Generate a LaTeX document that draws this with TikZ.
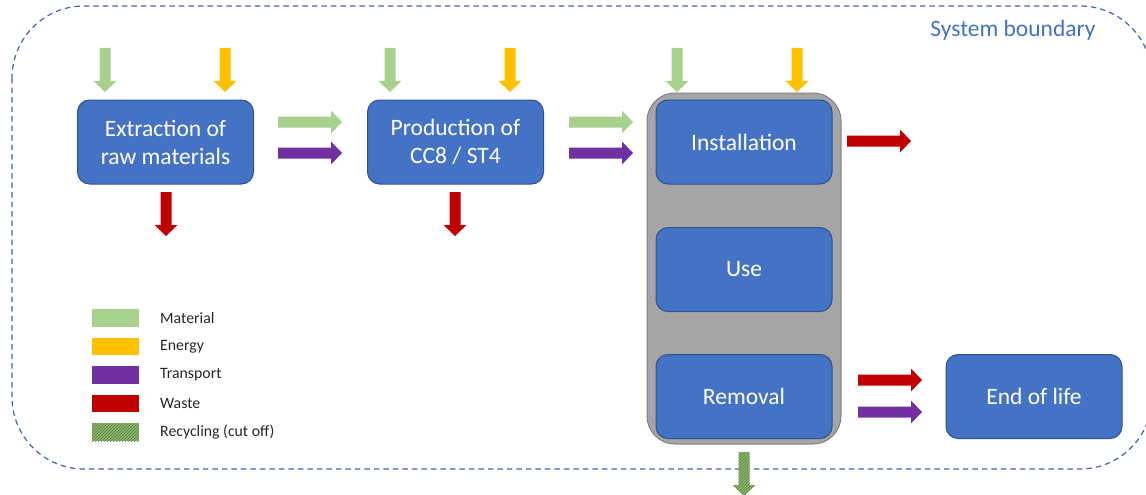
\documentclass[tikz,border=0pt]{standalone}
\usepackage{fontspec}
\setmainfont{Carlito}
\usetikzlibrary{patterns}
\definecolor{boxblue}{HTML}{4472C4}
\definecolor{boxedge}{HTML}{2F528F}
\definecolor{bndblue}{HTML}{3F66AE}
\definecolor{matgreen}{HTML}{A9D18E}
\definecolor{energy}{HTML}{FFC000}
\definecolor{transp}{HTML}{7030A0}
\definecolor{waste}{HTML}{C00000}
\definecolor{recyc}{HTML}{548235}
\definecolor{recycl}{HTML}{8FB573}
\definecolor{graybox}{HTML}{A5A5A5}
\definecolor{grayedge}{HTML}{7F7F7F}
\tikzset{
  proc/.style={draw=boxedge, line width=1pt, fill=boxblue, rounded corners=12pt,
    minimum width=176pt, minimum height=84pt, text=white, align=center,
    font=\fontsize{23.5}{28}\selectfont, inner sep=0pt},
  legtext/.style={anchor=west, font=\fontsize{15.8}{18}\selectfont, text=black!85, inner sep=0pt},
  recfill/.style={fill=recycl, postaction={pattern=north east lines, pattern color=recyc}},
}
% down arrow: x, ytop, ybottom, style
\newcommand\dnarrow[4]{\path[#4] (#1-5.5,#2) -- (#1+5.5,#2) -- (#1+5.5,#3-11) -- (#1+11.5,#3-11) -- (#1,#3) -- (#1-11.5,#3-11) -- (#1-5.5,#3-11) -- cycle;}
% right arrow: y, xleft, xright, style
\newcommand\rtarrow[4]{\path[#4] (#2,#1-5.5) -- (#2,#1+5.5) -- (#3-11,#1+5.5) -- (#3-11,#1+11.5) -- (#3,#1) -- (#3-11,#1-11.5) -- (#3-11,#1-5.5) -- cycle;}
\begin{document}
\begin{tikzpicture}[x=1pt,y=-1pt]
\useasboundingbox (0,0) rectangle (1146,495);
\clip (0,0) rectangle (1146,495);
% system boundary
\draw[bndblue, line width=1.2pt, dash pattern=on 5.5pt off 4pt, rounded corners=72pt] (12,6) rectangle (1152,469);
\node[text=boxblue, font=\fontsize{23.5}{26}\selectfont, inner sep=0pt] (sb) at (1013,30) {System boundary};
% gray container
\node[draw=grayedge, line width=1pt, fill=graybox, rounded corners=28pt, minimum width=194pt, minimum height=351pt, inner sep=0pt] (cont) at (744,268.5) {};
% process boxes
\node[proc] (extr) at (165.5,142) {Extraction of\\raw materials};
\node[proc] (prod) at (455.5,142) {Production of\\CC8 / ST4};
\node[proc] (inst) at (744,142) {Installation};
\node[proc] (use) at (744,269.5) {Use};
\node[proc] (remv) at (744,396.5) {Removal};
\node[proc] (eol) at (1034,396.5) {End of life};
% inputs
\dnarrow{105}{48}{92}{fill=matgreen}
\dnarrow{225}{48}{92}{fill=energy}
\dnarrow{390}{48}{92}{fill=matgreen}
\dnarrow{510}{48}{92}{fill=energy}
\dnarrow{677}{48}{92}{fill=matgreen}
\dnarrow{797}{48}{92}{fill=energy}
% horizontal flows
\rtarrow{122}{278}{342}{fill=matgreen}
\rtarrow{153}{278}{342}{fill=transp}
\rtarrow{122}{569}{633}{fill=matgreen}
\rtarrow{153}{569}{633}{fill=transp}
\rtarrow{141}{847}{911}{fill=waste}
\rtarrow{380}{858}{922}{fill=waste}
\rtarrow{412}{858}{922}{fill=transp}
% waste down
\dnarrow{166}{192}{236}{fill=waste}
\dnarrow{455}{192}{236}{fill=waste}
% recycling
\dnarrow{744}{452}{496}{recfill}
% legend
\fill[matgreen] (92,309) rectangle (139,327);
\node[legtext] (l1) at (160,318) {Material};
\fill[energy] (92,338) rectangle (139,355);
\node[legtext] (l2) at (160,346.5) {Energy};
\fill[transp] (92,366) rectangle (139,384);
\node[legtext] (l3) at (160,375) {Transport};
\fill[waste] (92,395) rectangle (139,412);
\node[legtext] (l4) at (160,403.5) {Waste};
\path[recfill] (92,423) rectangle (139,441);
\node[legtext] (l5) at (160,432) {Recycling (cut off)};
\end{tikzpicture}
\end{document}
